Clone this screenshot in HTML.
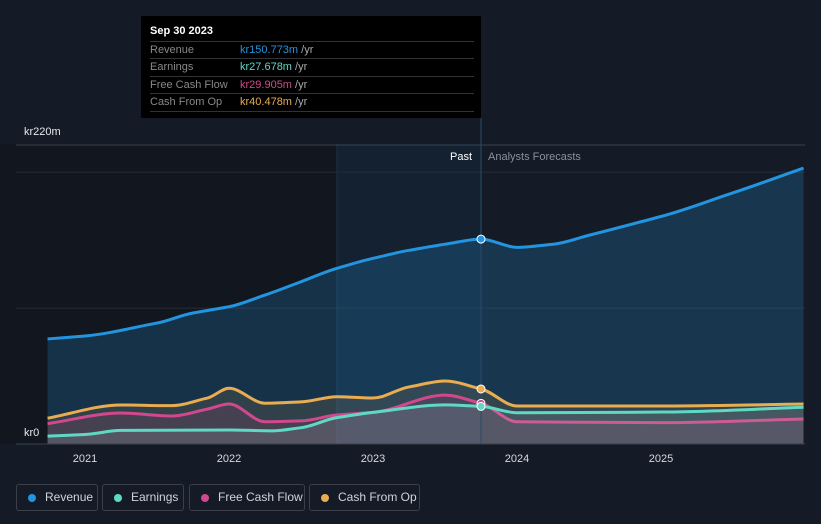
<!DOCTYPE html>
<html><head><meta charset="utf-8"><style>
body{margin:0;background:#151b26;font-family:"Liberation Sans",sans-serif;}
#wrap{position:relative;width:821px;height:524px;overflow:hidden;background:#151b26;}
.tt{position:absolute;left:141px;top:16px;width:340px;height:102px;background:#000;color:#fff;font-size:11px;}
.tt .h{position:absolute;left:9px;top:9px;font-weight:bold;font-size:11px;}
.tt .r{position:absolute;left:9px;width:324px;height:17px;border-top:1px solid #333;line-height:17px;color:#888;}
.tt .r span{position:absolute;left:90px;}
.tt .r i{font-style:normal;color:#aaa;}
.leg{position:absolute;top:484px;border:1px solid #3a3f4a;border-radius:3px;color:#cfd3da;font-size:12px;line-height:25px;box-sizing:border-box;height:27px;}
.leg b{position:absolute;left:11px;top:9px;width:8px;height:8px;border-radius:50%;}
.leg span{position:absolute;left:28px;}
</style></head><body>
<div id="wrap">
<svg id="svg" width="821" height="524" style="position:absolute;left:0;top:0"></svg>
<div class="tt">
<div class="h">Sep 30 2023</div>
<div class="r" style="top:25px">Revenue<span style="color:#2394df">kr150.773m <i>/yr</i></span></div>
<div class="r" style="top:42px">Earnings<span style="color:#5fd9c4">kr27.678m <i>/yr</i></span></div>
<div class="r" style="top:60px">Free Cash Flow<span style="color:#d1488c">kr29.905m <i>/yr</i></span></div>
<div class="r" style="top:77px;border-bottom:1px solid #333">Cash From Op<span style="color:#e8ac52">kr40.478m <i>/yr</i></span></div>
</div>
<div class="leg" style="left:16px;width:82px"><b style="background:#2394df"></b><span>Revenue</span></div>
<div class="leg" style="left:102px;width:82px"><b style="background:#5fd9c4"></b><span>Earnings</span></div>
<div class="leg" style="left:189px;width:116px"><b style="background:#d1488c"></b><span>Free Cash Flow</span></div>
<div class="leg" style="left:309px;width:111px"><b style="background:#e8ac52"></b><span>Cash From Op</span></div>
</div>
<script>
const revT=[2020.74,2021,2021.5,2021.75,2022,2022.25,2022.5,2022.75,2023,2023.25,2023.5,2023.75,2024,2024.25,2024.5,2025,2025.5,2025.99];
const revV=[77.3,79.5,89,96.4,101,109.6,119.4,129.3,136.6,142.5,147,150.773,144.7,147,153.6,167.4,184.8,203];
const earnT=[2020.74,2021,2021.25,2022,2022.3,2022.5,2022.75,2023,2023.5,2023.75,2024,2025,2025.99];
const earnV=[5.8,7,10,10.3,9.7,12,19.4,23.3,28.8,27.678,23,23.5,27];
const fcfT=[2020.74,2021.25,2021.6,2021.85,2022,2022.25,2022.5,2022.75,2023,2023.5,2023.75,2024,2025,2025.99];
const fcfV=[15,22.8,20.6,25.7,29.4,16.4,17,21.3,23.3,36,29.905,16.4,15.7,18.4];
const cfoT=[2020.74,2021.25,2021.6,2021.85,2022,2022.25,2022.5,2022.75,2023,2023.25,2023.5,2023.75,2024,2025,2025.99];
const cfoV=[19,28.7,28.2,33.8,41,30,31,34.8,33.8,42,46.4,40.478,28,28,29.4];
const xTicks=[2021,2022,2023,2024,2025];
const yTicks=[0,100,200,220];
const X=t=>85+(t-2021)*144;
const Y=v=>444-v*1.3591;
const svg=document.getElementById('svg');
const NS='http://www.w3.org/2000/svg';
function mk(tag,attrs,parent){const e=document.createElementNS(NS,tag);for(const k in attrs)e.setAttribute(k,attrs[k]);(parent||svg).appendChild(e);return e;}
function curve(ts,vs){const p=ts.map((t,i)=>[X(t),Y(vs[i])]);let d='M'+p[0][0]+','+p[0][1];
 const n=p.length,s=[],m=[];for(let i=0;i<n-1;i++)s.push((p[i+1][1]-p[i][1])/(p[i+1][0]-p[i][0]));
 for(let i=0;i<n;i++){if(i===0)m.push(s[0]);else if(i===n-1)m.push(s[n-2]);else if(s[i-1]*s[i]<=0)m.push(0);else{const a=s[i-1],b=s[i];m.push(Math.sign(a)*Math.min(Math.abs(a),Math.abs(b),Math.abs((a+b)/2))*1.0);}}
 for(let i=0;i<n-1;i++){const h=(p[i+1][0]-p[i][0])/3;d+=`C${p[i][0]+h},${p[i][1]+m[i]*h} ${p[i+1][0]-h},${p[i+1][1]-m[i+1]*h} ${p[i+1][0]},${p[i+1][1]}`;}return d;}
let e;
e=mk('rect',{x:0,y:144,width:481,height:300,fill:'#12161e'});
e=mk('rect',{x:337,y:144,width:144,height:300,fill:'#142130'});
e=mk('line',{x1:337,y1:144,x2:337,y2:444,stroke:'#1d3347'});
yTicks.forEach(v=>{if(v===0)return;const l=mk('line',{x1:16,x2:805,y1:Y(v),y2:Y(v),stroke:v===220?'#3a404b':'#262c36'});});
const series=[[revT,revV,'#2394df','rgba(35,148,223,0.22)','revenue'],[cfoT,cfoV,'#e8ac52','rgba(232,172,82,0.13)','cash-from-op'],[fcfT,fcfV,'#d1488c','rgba(209,72,140,0.13)','free-cash-flow'],[earnT,earnV,'#5fd9c4','rgba(180,200,210,0.15)','earnings']];
series.forEach(([t,v,c,f,n])=>{const d=curve(t,v);
 const a=mk('path',{d:d+`L${X(t[t.length-1])},444L${X(t[0])},444Z`,fill:f});
 const l=mk('path',{d:d,fill:'none',stroke:c,'stroke-width':3});});
e=mk('line',{x1:481,y1:118,x2:481,y2:444,stroke:'#2b4a66'});
e=mk('line',{x1:16,y1:444,x2:805,y2:444,stroke:'#3a404b'});
series.forEach(([t,v,c,f,n])=>{const i=t.indexOf(2023.75);const p=mk('circle',{cx:X(2023.75),cy:Y(v[i]),r:4,fill:c,stroke:'#fff','stroke-width':1});});
xTicks.forEach(t=>{const tx=mk('text',{x:X(t),y:462,fill:'#d6d9de','font-size':11,'text-anchor':'middle','font-family':'Liberation Sans'});tx.textContent=t;});
e=mk('text',{x:24,y:135,fill:'#e6e8eb','font-size':11});e.textContent='kr220m';
e=mk('text',{x:24,y:436,fill:'#e6e8eb','font-size':11});e.textContent='kr0';
e=mk('text',{x:472,y:160,fill:'#ffffff','font-size':11,'text-anchor':'end'});e.textContent='Past';
e=mk('text',{x:488,y:160,fill:'#8a9099','font-size':11});e.textContent='Analysts Forecasts';
</script>
</body></html>
